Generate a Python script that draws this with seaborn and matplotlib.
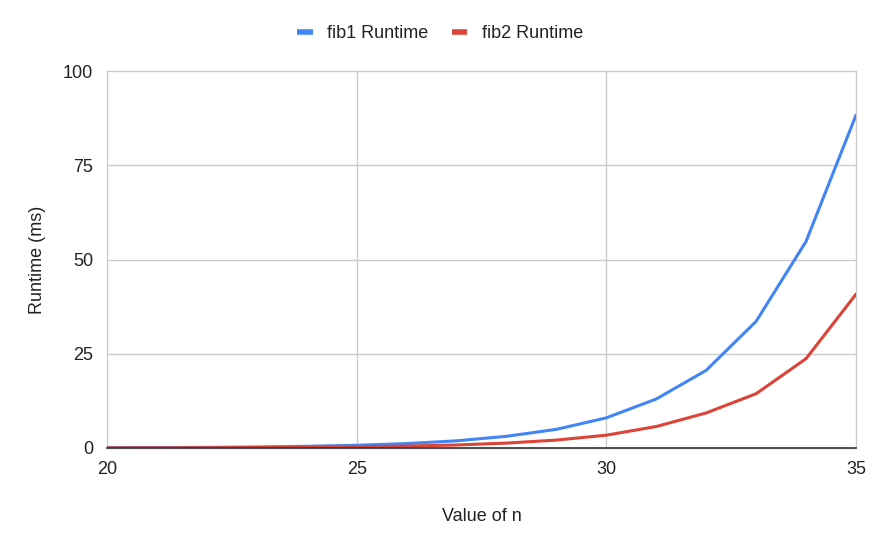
import matplotlib
matplotlib.use("Agg")
import matplotlib.pyplot as plt
import seaborn as sns
import pandas as pd
from matplotlib.lines import Line2D

n_values = [20, 21, 22, 23, 24, 25, 26, 27, 28, 29, 30, 31, 32, 33, 34, 35]
fib1_runtime = [0.07, 0.1, 0.17, 0.28, 0.45, 0.72, 1.17, 1.9, 3.1, 4.95, 8.0, 13.0, 20.6, 33.6, 54.8, 88.3]
fib2_runtime = [0.03, 0.05, 0.07, 0.12, 0.19, 0.3, 0.5, 0.8, 1.3, 2.1, 3.4, 5.7, 9.3, 14.4, 23.7, 40.8]
series_names = ["fib1 Runtime", "fib2 Runtime"]
series_colors = ["#4285F4", "#DB4437"]
x_ticks = [20, 25, 30, 35]
y_ticks = [0, 25, 50, 75, 100]

df = pd.DataFrame({"n": n_values * 2,
                   "runtime": fib1_runtime + fib2_runtime,
                   "series": [series_names[0]] * len(n_values) + [series_names[1]] * len(n_values)})

sns.set_theme(style="white")
plt.rcParams["font.family"] = ["Liberation Sans", "DejaVu Sans"]

fig = plt.figure(figsize=(8.8, 5.47), dpi=100)
ax = fig.add_axes([107 / 880, 1 - 448 / 547, (856 - 107) / 880, (448 - 71) / 547])

sns.lineplot(data=df, x="n", y="runtime", hue="series", palette=series_colors,
             linewidth=2.2, ax=ax, legend=False)

ax.set_xlim(20, 35)
ax.set_ylim(0, 100)
ax.set_xticks(x_ticks)
ax.set_yticks(y_ticks)
ax.grid(True, color="#cccccc", linewidth=1)
for gl in ax.get_xgridlines() + ax.get_ygridlines():
    gl.set_clip_on(False)
ax.set_axisbelow(True)
for s in ["top", "right", "left"]:
    ax.spines[s].set_visible(False)
ax.spines["bottom"].set_color("#333333")
ax.spines["bottom"].set_linewidth(1.2)
ax.tick_params(axis="both", length=0, labelsize=13, colors="#222222")
ax.tick_params(axis="x", pad=9)
ax.tick_params(axis="y", pad=10)
ax.set_xlabel("Value of n", fontsize=13, color="#222222", labelpad=22)
ax.set_ylabel("Runtime (ms)", fontsize=13, color="#222222", labelpad=12)

handles = [Line2D([0], [0], color=c, linewidth=4, solid_capstyle="butt") for c in series_colors]
fig.legend(handles, series_names, loc="center", bbox_to_anchor=(0.5, 1 - 34 / 547), ncol=2,
           frameon=False, fontsize=13, handlelength=0.85, handletextpad=0.8,
           columnspacing=1.3, labelcolor="#222222")

fig.savefig("out.png", dpi=100)
